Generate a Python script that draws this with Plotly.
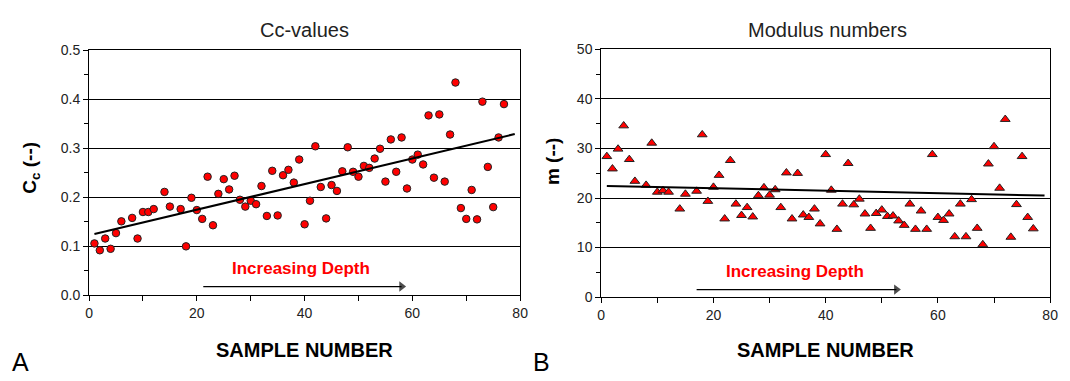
import plotly.graph_objects as go

# ---------------- data ----------------
sample_no = [1, 2, 3, 4, 5, 6, 8, 9, 10, 11, 12, 14, 15, 17, 18, 19, 20, 21, 22, 23,
             24, 25, 26, 27, 28, 29, 30, 31, 32, 33, 34, 35, 36, 37, 38, 39, 40, 41, 42, 43,
             44, 45, 46, 47, 48, 49, 50, 51, 52, 53, 54, 55, 56, 57, 58, 59, 60, 61, 62, 63,
             64, 65, 66, 67, 68, 69, 70, 71, 72, 73, 74, 75, 76, 77]

cc_values = [0.106, 0.092, 0.116, 0.095, 0.127, 0.151, 0.158, 0.116, 0.170, 0.170,
             0.176, 0.211, 0.181, 0.176, 0.100, 0.199, 0.174, 0.156, 0.242, 0.143,
             0.207, 0.237, 0.216, 0.244, 0.195, 0.181, 0.193, 0.186, 0.223, 0.162,
             0.254, 0.163, 0.245, 0.256, 0.230, 0.277, 0.145, 0.193, 0.304, 0.221,
             0.157, 0.225, 0.213, 0.253, 0.302, 0.252, 0.242, 0.264, 0.260, 0.279,
             0.299, 0.232, 0.318, 0.252, 0.322, 0.218, 0.277, 0.287, 0.267, 0.367,
             0.240, 0.369, 0.232, 0.328, 0.434, 0.178, 0.156, 0.215, 0.155, 0.395,
             0.262, 0.180, 0.322, 0.390]

m_values = [28.4, 25.9, 29.9, 34.6, 27.8, 23.4, 22.6, 31.1, 21.2, 21.5,
            21.2, 17.8, 20.8, 21.4, 32.8, 19.35, 22.2, 24.6, 15.8, 27.6,
            18.8, 16.5, 18.1, 16.2, 20.5, 22.1, 20.6, 21.7, 18.1, 25.1,
            15.8, 25.0, 16.6, 16.1, 17.8, 14.8, 28.8, 21.6, 13.7, 18.8,
            27.0, 18.65, 19.8, 16.8, 13.9, 16.9, 17.6, 16.3, 16.4, 15.4,
            14.5, 18.8, 13.7, 17.4, 13.7, 28.8, 16.1, 15.5, 16.8, 12.2,
            18.8, 12.2, 19.7, 13.9, 10.6, 26.9, 30.4, 22.0, 35.9, 12.1,
            18.7, 28.4, 16.1, 13.8]

# trend lines as drawn in the original (end points)
trend_x = [1, 79]
trend_cc = [0.125, 0.329]
trend_m = [22.45, 20.5]

# "Increasing Depth" arrows
arrow_x_cc = [21.2, 58.0]
arrow_y_cc = [0.018, 0.018]
arrow_x_m = [17.0, 52.6]
arrow_y_m = [1.5, 1.5]

FONT = "Arial, Liberation Sans, sans-serif"

fig = go.Figure()

# Left: Cc values
fig.add_trace(go.Scatter(
    x=sample_no, y=cc_values, mode="markers", xaxis="x", yaxis="y",
    marker=dict(symbol="circle", size=7.5, color="#ff0000",
                line=dict(color="#222222", width=1)),
    showlegend=False, hoverinfo="skip"))
fig.add_trace(go.Scatter(
    x=trend_x, y=trend_cc, mode="lines", xaxis="x", yaxis="y",
    line=dict(color="black", width=2), showlegend=False, hoverinfo="skip"))
fig.add_trace(go.Scatter(
    x=arrow_x_cc, y=arrow_y_cc, mode="lines+markers", xaxis="x", yaxis="y",
    line=dict(color="black", width=1.3),
    marker=dict(symbol=["circle", "triangle-right"], size=[0, 9], color="black",
                line=dict(width=0)),
    showlegend=False, hoverinfo="skip"))

# Right: modulus numbers
fig.add_trace(go.Scatter(
    x=sample_no, y=m_values, mode="markers", xaxis="x2", yaxis="y2",
    marker=dict(symbol="triangle-up", size=8.5, color="#ff0000",
                line=dict(color="#222222", width=1)),
    showlegend=False, hoverinfo="skip"))
fig.add_trace(go.Scatter(
    x=trend_x, y=trend_m, mode="lines", xaxis="x2", yaxis="y2",
    line=dict(color="black", width=2), showlegend=False, hoverinfo="skip"))
fig.add_trace(go.Scatter(
    x=arrow_x_m, y=arrow_y_m, mode="lines+markers", xaxis="x2", yaxis="y2",
    line=dict(color="black", width=1.3),
    marker=dict(symbol=["circle", "triangle-right"], size=[0, 9], color="black",
                line=dict(width=0)),
    showlegend=False, hoverinfo="skip"))

W, H = 1070, 381
L1, R1, T1, B1 = 86, 522, 44, 300
L2, R2, T2, B2 = 604, 1058, 43.3, 301.7

axis_common = dict(showline=True, linecolor="black", linewidth=1, mirror=True,
                   ticks="outside", ticklen=5, tickcolor="black",
                   tickfont=dict(family=FONT, size=14, color="#222"),
                   zeroline=False)

fig.update_layout(
    width=W, height=H, margin=dict(l=0, r=0, t=0, b=0),
    paper_bgcolor="white", plot_bgcolor="white", hovermode=False,
    xaxis=dict(domain=[L1 / W, R1 / W], range=[0, 80], dtick=20, showgrid=False,
               minor=dict(dtick=10, ticks="outside", ticklen=5, tickcolor="black"),
               anchor="y", **axis_common),
    yaxis=dict(domain=[1 - B1 / H, 1 - T1 / H], range=[0, 0.5], dtick=0.1, tickformat=".1f",
               showgrid=True, gridcolor="black", gridwidth=1,
               minor=dict(dtick=0.05, ticks="outside", ticklen=4, tickcolor="black", showgrid=False),
               anchor="x", **axis_common),
    xaxis2=dict(domain=[L2 / W, R2 / W], range=[0, 80], dtick=20, showgrid=False,
                minor=dict(dtick=10, ticks="outside", ticklen=5, tickcolor="black"),
                anchor="y2", **axis_common),
    yaxis2=dict(domain=[1 - B2 / H, 1 - T2 / H], range=[0, 50], dtick=10,
                showgrid=True, gridcolor="black", gridwidth=1,
                minor=dict(dtick=5, ticks="outside", ticklen=4, tickcolor="black", showgrid=False),
                anchor="x2", **axis_common),
)

def pa(text, x, y, size, color="black", angle=0):
    return dict(text=text, x=x / W, y=1 - y / H, xref="paper", yref="paper",
                showarrow=False, textangle=angle,
                font=dict(family=FONT, size=size, color=color),
                xanchor="center", yanchor="middle")

ann = [
    pa("Cc-values", (L1 + R1) / 2, 23, 20, "#222"),
    pa("Modulus numbers", (L2 + R2) / 2 + 2, 23, 20, "#222"),
    pa("<b>C<sub>c</sub> (--)</b>", 27, 167, 19, angle=-90),
    pa("<b>m (--)</b>", 555, 160, 19, angle=-90),
    pa("<b>SAMPLE NUMBER</b>", (L1 + R1) / 2, 357, 20),
    pa("<b>SAMPLE NUMBER</b>", (L2 + R2) / 2, 357, 20),
    pa("A", 17, 369, 25),
    pa("B", 544, 369, 25),
    dict(text="<b>Increasing Depth</b>", x=39.3, y=0.055, xref="x", yref="y",
         showarrow=False, font=dict(family=FONT, size=17, color="#ff0000"),
         xanchor="center", yanchor="middle"),
    dict(text="<b>Increasing Depth</b>", x=34.5, y=5.2, xref="x2", yref="y2",
         showarrow=False, font=dict(family=FONT, size=17, color="#ff0000"),
         xanchor="center", yanchor="middle"),
]

fig.update_layout(annotations=ann)

post = (
    "document.documentElement.style.margin='0';document.documentElement.style.padding='0';"
    "document.body.style.margin='0';document.body.style.padding='0';"
    "document.body.style.overflow='hidden';"
)
fig.write_html("out.html", post_script=post,
               config={"displayModeBar": False, "staticPlot": True})
